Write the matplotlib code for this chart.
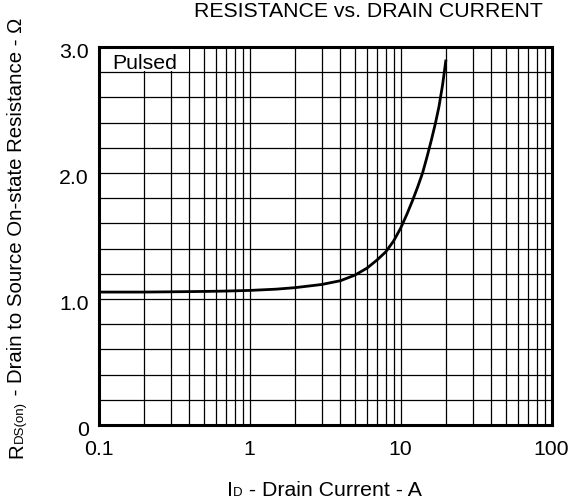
import matplotlib
matplotlib.use("Agg")
import matplotlib.pyplot as plt
from matplotlib.transforms import ScaledTranslation
import numpy as np

plt.rcParams['font.family'] = ['Liberation Sans', 'DejaVu Sans']

# Data
drain_current = [0.1, 0.2, 0.3, 0.5, 0.7, 1.0, 1.5, 2.0, 3.0, 4.0, 5.0, 6.0, 7.0, 8.0,
                 9.0, 10.0, 11.0, 12.0, 13.0, 14.0, 15.0, 16.0, 17.0, 18.0, 19.0, 20.0]
rds_on = [1.055, 1.055, 1.057, 1.06, 1.063, 1.068, 1.078, 1.09, 1.115, 1.145, 1.19,
          1.245, 1.31, 1.375, 1.46, 1.56, 1.67, 1.78, 1.89, 2.0, 2.13, 2.26, 2.39,
          2.53, 2.70, 2.90]

x_ticks = [0.1, 1, 10, 100]
x_ticklabels = ["0.1", "1", "10", "100"]
y_ticks = [0, 1.0, 2.0, 3.0]
y_ticklabels = ["0", "1.0", "2.0", "3.0"]

FS = 15.3
SUB = 9.5

W, H = 571, 500
fig = plt.figure(figsize=(W / 100, H / 100), dpi=100)
ax = fig.add_axes([98.5 / W, 1 - 425 / H, 453 / W, 378 / H])

ax.set_xscale('log')
ax.set_xlim(0.1, 100)
ax.set_ylim(0, 3.0)

# grid
minor_x = [m * 10.0 ** e for e in (-1, 0, 1) for m in range(1, 10)]
for xv in minor_x[1:]:
    ax.axvline(xv, color='black', lw=0.9, zorder=1)
for k in range(1, 15):
    ax.axhline(k * 0.2, color='black', lw=0.9, zorder=1)

# "Pulsed" label box
ax.fill_between([0.1, 0.4], 2.8 + 0.006, 3.0, color='white', zorder=2, lw=0)
ax.text(0.123, 2.823, "Pulsed", fontsize=FS, ha='left', va='baseline', zorder=3)

ax.plot(drain_current, rds_on, color='black', lw=2.0, zorder=4, solid_capstyle='butt')

ax.set_xticks(x_ticks)
ax.set_xticklabels(x_ticklabels)
ax.set_yticks(y_ticks)
ax.set_yticklabels(y_ticklabels)
ax.xaxis.set_minor_locator(matplotlib.ticker.NullLocator())
ax.tick_params(axis='both', length=0, labelsize=FS)
ax.tick_params(axis='x', pad=11)
ax.tick_params(axis='y', pad=7)
for lab in ax.get_yticklabels():
    lab.set_transform(lab.get_transform() + ScaledTranslation(0, -3 / 100, fig.dpi_scale_trans))
for s in ax.spines.values():
    s.set_linewidth(2.2)
    s.set_zorder(5)

fig.text(368 / W, 1 - 17 / H, "RESISTANCE vs. DRAIN CURRENT", fontsize=FS,
         ha='center', va='baseline')

renderer = fig.canvas.get_renderer()

# x label composed: I + small D + rest
xparts = [("I", FS), ("D", SUB), (" - Drain Current - A", FS)]
widths = []
for t, f in xparts:
    tmp = fig.text(0, 0, t, fontsize=f)
    widths.append(tmp.get_window_extent(renderer).width)
    tmp.remove()
total = sum(widths)
x0 = 324.5 - total / 2
base_y = 496
for (t, f), w in zip(xparts, widths):
    fig.text(x0 / W, 1 - base_y / H, t, fontsize=f, ha='left', va='baseline')
    x0 += w

# y label composed (rotated)
YFS = 14.7
yparts = [("R", YFS), ("DS(on)", SUB), (" - Drain to Source On-state Resistance - Ω", YFS)]
y0 = 458
base_x = 22.5
for t, f in yparts:
    txt = fig.text(base_x / W, 1 - y0 / H, t, fontsize=f, ha='left', va='baseline',
                   rotation=90, rotation_mode='anchor')
    y0 -= txt.get_window_extent(renderer).height

fig.savefig("out.png", dpi=100, facecolor='white')
